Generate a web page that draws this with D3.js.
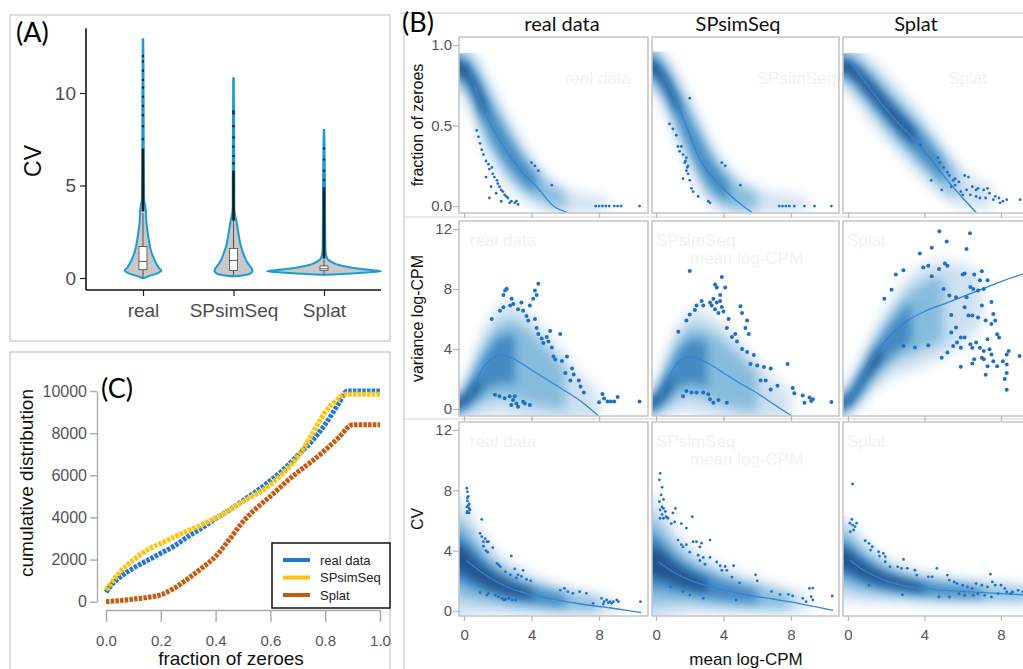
<!DOCTYPE html>
<html>
<head>
<meta charset="utf-8">
<script src="https://cdn.jsdelivr.net/npm/d3@7"></script>
<style>
body { margin: 0; background: #fff; }
svg { display: block; }
</style>
</head>
<body>
<svg id="fig" width="1023" height="669"></svg>
<script>
// ---------- (A) violin data: [CV, relative density]
const groupsA = ["real", "SPsimSeq", "Splat"];
const cvTicks = [0, 5, 10];
const violinReal = [[0,0.02],[0.1,0.1],[0.25,0.25],[0.4,0.32],[0.55,0.28],[0.8,0.23],[1.2,0.17],[1.6,0.13],[2.0,0.105],[2.5,0.08],[3.0,0.06],[3.5,0.053],[3.8,0.044],[4.2,0.021],[5,0.016],[7,0.012],[10,0.01],[12.9,0.005]];
const violinSP = [[0.1,0.035],[0.15,0.175],[0.25,0.3],[0.4,0.333],[0.6,0.3],[0.9,0.23],[1.3,0.175],[1.8,0.123],[2.4,0.088],[3.0,0.056],[3.3,0.035],[3.6,0.018],[5,0.014],[8,0.01],[10.8,0.005]];
const violinSplat = [[0.18,0.02],[0.2,0.25],[0.23,0.42],[0.3,0.75],[0.36,1.0],[0.42,0.85],[0.47,0.7],[0.6,0.42],[0.7,0.26],[0.8,0.17],[1.0,0.07],[1.2,0.04],[1.5,0.026],[2.5,0.021],[4,0.018],[6,0.014],[8,0.005]];
const boxQ1 = [0.45, 0.4, 0.4];
const boxMed = [0.9, 0.95, 0.5];
const boxQ3 = [1.7, 1.6, 0.65];
const whiskLo = [0.05, 0.15, 0.2];
const whiskHi = [3.5, 3.3, 1.0];
const outRunLo = [3.6, 3.1, 1.05];
const outRunHi = [7.0, 5.8, 4.9];
const outSparse = [[7.5,8.2,8.8,9.3,9.8,10.3,10.7,11.2,11.7,12.0],[6.2,6.6,7.1,7.6,8.2,8.9,9.0],[5.3,5.8,6.4,7.0]];

// ---------- (C) cumulative distribution: [fraction of zeroes, count]
const cumTicksY = [0, 2000, 4000, 6000, 8000, 10000];
const cumTicksX = [0, 0.2, 0.4, 0.6, 0.8, 1.0];
const cumNames = ["real data", "SPsimSeq", "Splat"];
const cumReal = [[0,450],[0.02,800],[0.05,1150],[0.1,1600],[0.15,1950],[0.2,2300],[0.25,2650],[0.3,3100],[0.35,3500],[0.4,3950],[0.45,4350],[0.5,4800],[0.55,5250],[0.6,5750],[0.65,6300],[0.7,6950],[0.75,7600],[0.8,8420],[0.85,9420],[0.88,10000],[1.0,10000]];
const cumSP = [[0,550],[0.02,900],[0.05,1400],[0.1,1980],[0.15,2450],[0.2,2770],[0.25,3080],[0.3,3380],[0.35,3650],[0.4,3980],[0.45,4350],[0.5,4750],[0.55,5120],[0.6,5550],[0.65,6150],[0.7,6880],[0.75,7900],[0.8,9000],[0.85,9650],[0.87,9850],[1.0,9850]];
const cumSplat = [[0,0],[0.05,50],[0.1,120],[0.15,200],[0.2,330],[0.25,650],[0.3,1100],[0.35,1600],[0.4,2150],[0.45,2950],[0.5,3800],[0.55,4450],[0.6,5000],[0.65,5600],[0.7,6150],[0.75,6650],[0.8,7200],[0.85,7800],[0.9,8400],[1.0,8400]];

// ---------- (B) density ridges [mean, value, spread, weight], trend lines, outlying genes
const colNamesB = ["real data", "SPsimSeq", "Splat"];
const rowNamesB = ["fraction of zeroes", "variance log-CPM", "CV"];
const xTicksB = [0, 4, 8];

const cloudZeroReal = [[-0.3,0.87,0.08,1],[0.3,0.82,0.1,1],[0.8,0.70,0.12,0.85],[1.3,0.58,0.13,0.75],[1.8,0.48,0.13,0.65],[2.4,0.37,0.12,0.6],[3.0,0.28,0.11,0.55],[3.6,0.20,0.09,0.5],[4.3,0.13,0.07,0.45],[5.0,0.07,0.055,0.35],[6.0,0.03,0.04,0.25],[7.0,0.015,0.03,0.15],[8.5,0.01,0.025,0.1]];
const cloudZeroSP = [[-0.24,0.88,0.08,1],[0.3,0.82,0.09,1],[0.8,0.72,0.1,0.85],[1.3,0.61,0.11,0.75],[1.8,0.49,0.12,0.65],[2.4,0.36,0.12,0.6],[3.0,0.24,0.12,0.55],[3.6,0.15,0.1,0.5],[4.3,0.09,0.08,0.45],[5,0.05,0.06,0.4],[6,0.03,0.04,0.3],[7.5,0.015,0.03,0.2],[9,0.01,0.025,0.12]];
const cloudZeroSplat = [[-0.26,0.88,0.07,1],[0.3,0.84,0.09,1],[1.0,0.75,0.1,0.95],[1.8,0.64,0.11,0.9],[2.6,0.53,0.11,0.85],[3.5,0.42,0.11,0.75],[4.3,0.31,0.1,0.65],[5.0,0.21,0.09,0.5],[5.7,0.13,0.07,0.35],[6.5,0.08,0.05,0.2],[7.5,0.05,0.04,0.1]];
const cloudVarReal = [[-0.3,0.2,0.5,1],[0.3,0.8,0.8,0.95],[0.8,1.8,1.3,0.75],[1.5,2.8,1.8,0.6],[2.2,3.4,2.1,0.5],[3,3.3,2.2,0.45],[4,2.7,2.0,0.4],[5,2.0,1.6,0.33],[6,1.3,1.2,0.28],[7,0.7,0.8,0.2],[8,0.3,0.5,0.12]];
const cloudVarSP = [[-0.24,0.2,0.5,1],[0.3,0.8,0.8,0.95],[0.8,1.9,1.3,0.75],[1.5,2.9,1.7,0.6],[2.0,3.3,1.9,0.5],[3,3.0,2.0,0.45],[4,2.4,1.8,0.4],[5,1.8,1.5,0.33],[6,1.1,1.1,0.28],[7,0.6,0.8,0.2],[8,0.3,0.5,0.12]];
const cloudVarSplat = [[-0.26,0.2,0.5,1],[0.3,0.9,0.7,1],[1,2.5,0.9,0.95],[1.7,3.8,1.2,0.85],[2.5,5.0,1.5,0.65],[3.3,5.8,1.8,0.5],[4,6.3,1.9,0.4],[5,6.7,1.8,0.3],[6,7.0,1.5,0.2],[7,7.3,1.0,0.12]];
const cloudCvReal = [[-0.3,3.6,2.2,1],[0.3,3.1,2.0,1],[1,2.4,1.5,0.95],[2,1.75,1.1,0.9],[3,1.35,0.9,0.8],[4,1.05,0.7,0.72],[5,0.85,0.6,0.62],[6,0.65,0.5,0.5],[7,0.5,0.4,0.4],[8,0.4,0.35,0.3],[9,0.3,0.3,0.18]];
const cloudCvSP = [[-0.24,3.4,2.4,1],[0.3,3.1,2.2,1],[1,2.5,1.6,0.95],[2,2.0,1.2,0.85],[3,1.65,1.0,0.75],[4,1.35,0.85,0.65],[5,1.15,0.7,0.55],[6,0.95,0.6,0.5],[7,0.8,0.5,0.42],[8,0.65,0.4,0.32],[9,0.5,0.35,0.2]];
const cloudCvSplat = [[-0.26,3.6,1.6,1],[0.3,3.1,1.4,1],[1,2.5,1.1,0.95],[2,2.0,0.8,0.9],[3,1.7,0.65,0.8],[4,1.5,0.55,0.7],[5,1.35,0.5,0.6],[6,1.3,0.45,0.5],[7,1.2,0.4,0.45],[8,1.15,0.35,0.4],[9.5,1.05,0.3,0.35]];
const capZero = [0.95, 0.96, 0.95];
const capVar = [13, 13, 13];
const capCv = [8.2, 9.2, 6.3];

const trendZeroReal = [[0.16,0.89],[0.5,0.79],[0.84,0.68],[1.2,0.59],[1.6,0.5],[2.2,0.39],[3,0.27],[3.6,0.19],[4.3,0.12],[5.3,0.0],[6.1,-0.04]];
const trendZeroSP = [[0.12,0.88],[0.6,0.78],[1.1,0.68],[1.9,0.47],[2.7,0.27],[3.7,0.14],[4.7,0.04],[5.7,-0.04]];
const trendZeroSplat = [[0.09,0.9],[0.9,0.77],[1.74,0.64],[2.6,0.52],[3.5,0.41],[4.4,0.28],[5.2,0.16],[6.0,0.05],[6.7,-0.04]];
const trendVarReal = [[0.15,0.3],[0.7,1.8],[1.3,3.0],[2.2,3.6],[3,3.3],[4,2.6],[5,1.9],[6,1.2],[7,0.45],[8,-0.5]];
const trendVarSP = [[0.15,0.3],[0.7,1.9],[1.3,3.1],[2.0,3.5],[3,3.1],[4,2.4],[5,1.7],[6,1.05],[7,0.3],[8.1,-0.5]];
const trendVarSplat = [[0.1,0.3],[0.7,1.8],[1.3,3.3],[2,4.6],[3,5.8],[4,6.5],[5,7.0],[6,7.5],[7,8.0],[8,8.5],[9.6,9.2]];
const trendCvReal = [[0.15,3.35],[1,2.6],[2,1.9],[3,1.4],[4,1.08],[5,0.85],[6,0.63],[7,0.45],[8,0.3],[9,0.15],[10.5,-0.1]];
const trendCvSP = [[0.15,3.25],[1,2.6],[2,2.05],[3,1.68],[4,1.4],[5,1.15],[6,0.95],[7,0.78],[8,0.6],[9,0.38],[10.5,0.05]];
const trendCvSplat = [[0.1,3.4],[0.7,2.8],[1.3,2.4],[2,2.0],[3,1.65],[4,1.48],[5,1.38],[6,1.3],[7,1.23],[8,1.15],[9.6,1.05]];

const dotsZeroReal = [[0.75,0.47],[0.85,0.43],[0.95,0.39],[1.05,0.35],[1.15,0.32],[1.3,0.28],[1.45,0.26],[1.5,0.23],[1.65,0.24],[1.7,0.2],[1.8,0.18],[1.95,0.16],[2.0,0.14],[2.1,0.12],[2.2,0.10],[2.3,0.09],[2.4,0.07],[2.5,0.06],[2.6,0.05],[2.8,0.03],[3.0,0.02],[3.2,0.01],[1.5,0.05],[2.2,0.03],[1.3,0.18],[1.6,0.12],[1.9,0.08],[2.7,0.02],[3.1,0.03],[4.0,0.27],[4.2,0.25],[4.4,0.22],[5.2,0.13],[7.8,0],[8.0,0],[8.2,0],[8.4,0],[8.6,0],[8.9,0],[9.1,0],[9.3,0],[10.4,0]];
const dotsZeroSP = [[0.8,0.51],[1.0,0.48],[1.2,0.44],[1.3,0.37],[1.5,0.37],[1.4,0.34],[1.6,0.32],[1.8,0.30],[1.7,0.27],[1.9,0.25],[1.8,0.22],[1.9,0.20],[1.6,0.17],[2.0,0.16],[2.1,0.11],[2.2,0.09],[2.5,0.06],[3.1,0.03],[3.2,0.02],[1.75,0.28],[1.85,0.24],[2.0,0.67],[3.9,0.27],[4.1,0.25],[5.0,0.13],[7.3,0],[7.5,0],[7.7,0],[7.9,0],[8.2,0],[8.8,0],[9.4,0],[10.4,0]];
const dotsZeroSplat = [[2.9,0.51],[3.8,0.38],[4.7,0.30],[5.0,0.24],[5.2,0.21],[5.3,0.19],[5.5,0.16],[5.6,0.17],[5.8,0.15],[6.1,0.19],[6.3,0.18],[6.5,0.12],[6.7,0.10],[6.8,0.11],[7.1,0.10],[7.3,0.11],[7.4,0.08],[7.7,0.06],[7.9,0.05],[8.1,0.03],[8.3,0.04],[4.35,0.16],[4.9,0.10],[5.4,0.12],[5.9,0.09],[6.0,0.07],[6.4,0.07],[6.7,0.06],[6.9,0.05],[7.2,0.05],[7.6,0.04],[7.95,0.02],[9.0,0.04],[4.8,0.27],[5.6,0.13],[6.2,0.1]];
const dotsVarReal = [[1.64,6.0],[2.13,6.56],[2.33,6.79],[2.43,7.91],[2.53,8.02],[2.33,7.6],[2.73,6.9],[2.82,7.35],[2.92,7.0],[3.2,6.66],[3.4,7.1],[3.5,6.55],[3.7,6.2],[3.8,5.9],[3.9,6.9],[4.1,7.35],[4.2,7.9],[4.3,7.6],[4.4,8.35],[4.2,6.0],[4.3,5.4],[4.4,5.0],[4.6,4.7],[4.7,4.4],[4.9,4.8],[5.0,4.5],[5.2,4.1],[5.1,5.2],[5.7,5.0],[5.3,3.5],[5.4,3.3],[5.8,3.2],[6.1,3.5],[6.0,2.4],[6.4,2.7],[6.5,2.3],[6.3,1.9],[6.8,1.9],[6.9,1.5],[7.1,1.1],[8.2,1.0],[8.3,0.7],[8.5,0.5],[8.7,0.5],[8.9,0.5],[9.1,0.8],[10.4,0.5],[8.0,0.45],[1.83,0.95],[2.1,0.85],[2.4,0.72],[2.7,0.85],[2.9,0.6],[2.8,0.26],[3.1,0.37],[3.5,0.48],[3.6,0.37],[3.9,0.26],[3.2,0.15],[3.0,0.85]];
const dotsVarSP = [[2.0,9.2],[1.32,5.15],[1.8,5.9],[2.0,6.3],[2.3,6.6],[2.4,6.9],[2.7,7.2],[2.8,6.9],[3.2,7.1],[3.3,6.9],[3.4,7.35],[3.5,8.3],[3.6,8.1],[3.8,7.6],[3.9,8.8],[4.1,8.1],[3.5,6.65],[3.7,6.4],[3.9,6.8],[4.0,6.5],[3.6,7.1],[3.8,7.2],[4.3,6.0],[4.2,5.4],[4.5,4.8],[4.7,5.0],[4.8,4.5],[5.0,6.85],[5.1,6.4],[5.4,5.9],[5.3,5.4],[5.5,5.0],[5.4,3.8],[5.1,4.0],[5.8,3.6],[5.6,3.0],[6.0,2.9],[6.4,2.8],[6.8,2.7],[6.2,1.9],[6.5,1.9],[6.8,1.3],[7.2,1.55],[7.8,3.0],[8.1,1.4],[8.2,1.05],[8.7,0.9],[9.1,0.76],[9.2,0.53],[8.8,0.42],[9.3,0.65],[10.4,0.47],[1.6,0.85],[1.8,1.2],[2.1,1.1],[2.4,1.1],[2.8,1.1],[3.1,0.98],[3.2,0.64],[3.4,0.42],[3.7,0.6],[4.2,0.42]];
const dotsVarSplat = [[1.9,7.35],[2.28,7.96],[2.5,8.97],[2.9,9.26],[3.76,10.38],[3.94,9.44],[4.2,9.56],[4.38,10.76],[4.38,8.85],[4.78,11.85],[5.16,11.17],[5.07,9.71],[5.2,9.56],[4.76,9.33],[6.2,10.68],[6.38,11.73],[6.0,8.97],[6.1,9.03],[6.6,8.97],[7.0,9.19],[6.9,8.58],[7.3,8.58],[7.1,8.0],[6.55,8.0],[6.4,8.13],[6.8,7.9],[6.2,7.46],[5.65,7.46],[5.3,7.57],[5.0,8.0],[6.1,6.79],[6.3,6.23],[6.5,6.23],[6.8,6.11],[7.0,6.9],[7.5,7.13],[7.6,6.33],[7.7,5.9],[7.2,5.9],[7.5,5.66],[5.4,6.27],[5.65,5.44],[5.4,5.1],[5.9,4.76],[6.1,4.76],[5.7,4.43],[5.9,4.09],[5.2,3.76],[4.9,3.42],[5.5,4.2],[6.4,4.31],[6.5,4.09],[6.7,4.43],[6.9,4.09],[7.1,3.87],[7.3,4.65],[7.4,3.98],[7.5,3.64],[7.8,4.99],[7.9,4.76],[7.6,3.19],[7.3,2.85],[7.0,3.42],[6.6,3.31],[6.5,3.04],[7.1,3.31],[7.8,2.85],[8.1,3.19],[8.3,3.64],[8.4,3.87],[8.3,2.97],[8.3,2.4],[8.2,2.0],[8.3,1.28],[7.2,2.29],[5.9,2.81],[8.97,3.53],[2.9,4.2],[3.5,4.1],[4.2,4.25]];
const dotsCvReal = [[0.16,8.14],[0.2,7.9],[0.25,7.6],[0.2,7.3],[0.3,7.1],[0.16,6.9],[0.3,6.8],[0.2,6.6],[0.35,6.7],[0.16,6.5],[0.3,6.5],[0.25,7.0],[0.2,7.5],[1.05,6.08],[0.95,5.15],[1.05,4.93],[1.15,4.6],[1.25,4.8],[1.35,4.6],[1.45,4.6],[1.15,4.3],[1.3,4.0],[1.4,3.9],[1.7,4.2],[2.8,3.65],[1.95,3.16],[2.15,2.94],[2.05,3.05],[2.45,2.6],[2.75,2.4],[3.0,2.8],[3.2,2.4],[3.1,2.2],[3.5,2.7],[3.4,2.3],[3.7,2.1],[3.95,2.0],[0.95,1.22],[1.35,1.06],[1.45,1.17],[1.85,1.06],[2.05,0.95],[2.25,0.84],[2.45,0.77],[2.65,0.84],[2.85,0.73],[3.05,0.73],[2.35,0.73],[5.7,1.39],[5.95,1.5],[6.15,1.28],[6.45,1.17],[6.85,1.28],[7.25,1.17],[7.65,0.51],[8.15,0.84],[8.3,0.62],[8.45,0.73],[8.55,0.55],[8.65,0.62],[8.85,0.62],[9.05,0.73],[9.15,0.62],[8.25,0.46],[8.75,0.51],[10.45,0.62]];
const dotsCvSP = [[0.24,9.13],[0.2,8.7],[0.36,8.2],[0.3,7.7],[0.44,7.4],[0.2,7.25],[0.36,6.9],[0.24,6.7],[0.44,6.8],[0.55,6.6],[0.36,6.4],[0.6,6.25],[0.24,6.15],[0.44,6.15],[0.7,6.15],[1.0,6.5],[1.15,6.8],[0.9,5.8],[1.1,5.9],[1.5,5.8],[1.8,5.5],[2.15,6.25],[1.3,4.7],[1.5,4.4],[1.6,4.25],[1.8,4.4],[2.0,3.9],[2.2,4.6],[2.4,4.6],[2.6,4.25],[2.7,4.5],[3.2,4.7],[2.5,3.7],[2.6,3.35],[2.8,3.55],[2.9,3.1],[3.2,3.55],[3.6,3.25],[3.8,3.0],[3.9,2.7],[4.1,2.95],[4.2,2.7],[4.6,3.0],[4.5,2.25],[4.95,1.86],[5.9,2.4],[6.0,2.0],[0.85,1.6],[1.6,1.3],[2.0,1.06],[2.8,0.84],[4.75,0.73],[6.85,1.3],[7.35,1.1],[7.85,1.1],[8.1,1.0],[8.7,0.84],[8.9,0.62],[9.1,1.5],[9.3,1.52],[9.2,0.95],[9.3,0.73],[10.45,1.0]];
const dotsCvSplat = [[0.24,8.42],[0.2,6.07],[0.1,5.82],[0.24,5.7],[0.37,5.6],[0.45,5.82],[0.3,5.37],[0.12,5.26],[0.9,4.66],[1.1,4.49],[1.18,4.04],[1.27,4.26],[1.6,3.93],[1.65,3.64],[1.85,3.82],[1.95,3.6],[1.95,3.27],[2.2,2.93],[2.6,2.93],[2.8,2.83],[3.1,2.83],[2.9,3.42],[3.5,2.71],[3.6,2.38],[4.2,2.27],[4.65,2.83],[4.4,2.27],[5.2,2.38],[5.3,2.05],[5.55,1.93],[5.7,1.82],[6.0,1.71],[6.25,1.6],[6.5,1.49],[6.7,1.82],[7.0,1.71],[7.3,1.6],[7.45,2.44],[7.55,1.93],[7.7,1.71],[8.0,1.71],[8.2,1.49],[8.3,1.26],[8.6,1.26],[8.5,1.15],[5.8,1.15],[6.1,1.04],[6.55,1.04],[6.8,1.15],[7.15,1.04],[7.85,1.15],[7.5,0.93],[4.75,0.93],[5.3,0.93],[2.85,1.08],[1.1,1.7],[9.15,1.26],[8.9,1.37]];

// ---------- drawing
const sans = '"Liberation Sans", Arial, sans-serif';
const calib = 'Lato, "Open Sans", sans-serif';
const svg = d3.select("#fig");
const defs = svg.append("defs");
svg.append("rect").attr("width", 1023).attr("height", 669).attr("fill", "#fff");

[4, 5, 6, 7].forEach(b => {
  defs.append("filter").attr("id", "blur" + b)
    .attr("filterUnits", "userSpaceOnUse").attr("x", 0).attr("y", 0).attr("width", 1023).attr("height", 669)
    .append("feGaussianBlur").attr("stdDeviation", b);
});

// frames
const frame = "#c8c8c8";
svg.append("rect").attr("x", 10).attr("y", 15).attr("width", 380).attr("height", 326)
  .attr("fill", "none").attr("stroke", frame).attr("stroke-width", 1.2);
svg.append("rect").attr("x", 10).attr("y", 352).attr("width", 380).attr("height", 340)
  .attr("fill", "none").attr("stroke", frame).attr("stroke-width", 1.2);
svg.append("line").attr("x1", 400).attr("x2", 1023).attr("y1", 13).attr("y2", 13).attr("stroke", frame).attr("stroke-width", 1.2);
svg.append("line").attr("x1", 404).attr("x2", 404).attr("y1", 13).attr("y2", 669).attr("stroke", frame).attr("stroke-width", 1.2);
[217, 419].forEach(y => svg.append("line").attr("x1", 404).attr("x2", 1023).attr("y1", y).attr("y2", y)
  .attr("stroke", "#d4d4d4").attr("stroke-width", 1.2));

// ===== Panel A
const xA = d3.scalePoint().domain(groupsA).range([143, 324]);
const yA = d3.scaleLinear().domain([0, 10]).range([278, 93]);
const wA = d3.scaleLinear().domain([0, 1]).range([0, 57]);
const violins = [violinReal, violinSP, violinSplat];

const gA = svg.append("g");
violins.forEach((v, i) => {
  const cx = xA(groupsA[i]);
  const area = d3.area().curve(d3.curveCatmullRom)
    .y(d => yA(d[0])).x0(d => cx - wA(d[1])).x1(d => cx + wA(d[1]));
  gA.append("path").attr("d", area(v)).attr("fill", "#c8c8c8")
    .attr("stroke", "#1b9bd6").attr("stroke-width", 2);
  // box + whiskers
  gA.append("line").attr("x1", cx).attr("x2", cx).attr("y1", yA(whiskLo[i])).attr("y2", yA(whiskHi[i]))
    .attr("stroke", "#333").attr("stroke-width", 0.8);
  gA.append("rect").attr("x", cx - 4).attr("width", 8)
    .attr("y", yA(boxQ3[i])).attr("height", yA(boxQ1[i]) - yA(boxQ3[i]))
    .attr("fill", "#fff").attr("stroke", "#333").attr("stroke-width", 0.7);
  gA.append("line").attr("x1", cx - 4).attr("x2", cx + 4).attr("y1", yA(boxMed[i])).attr("y2", yA(boxMed[i]))
    .attr("stroke", "#333").attr("stroke-width", 0.8);
  // outliers
  gA.append("line").attr("x1", cx).attr("x2", cx).attr("y1", yA(outRunLo[i])).attr("y2", yA(outRunHi[i]))
    .attr("stroke", "#1c1c1c").attr("stroke-width", 2.6);
  gA.selectAll(null).data(outSparse[i]).enter().append("circle")
    .attr("cx", cx).attr("cy", d => yA(d)).attr("r", 1.2).attr("fill", "#1c1c1c");
});

const axAy = gA.append("g").attr("transform", "translate(86,0)")
  .call(d3.axisLeft(yA).tickValues(cvTicks).tickSize(6).tickPadding(4));
const axAx = gA.append("g").attr("transform", "translate(0,290)")
  .call(d3.axisBottom(xA).tickSize(6).tickPadding(8));
[axAy, axAx].forEach(a => {
  a.select(".domain").remove();
  a.selectAll("line").attr("stroke", "#222").attr("stroke-width", 1.2);
  a.selectAll("text").attr("font-family", sans).attr("font-size", 19).attr("fill", "#4d4d4d");
});
gA.append("line").attr("x1", 86).attr("x2", 86).attr("y1", yA(13.5)).attr("y2", 290).attr("stroke", "#111").attr("stroke-width", 1.6);
gA.append("line").attr("x1", 86).attr("x2", 381).attr("y1", 290).attr("y2", 290).attr("stroke", "#111").attr("stroke-width", 1.6);
gA.append("text").attr("transform", "translate(41,161) rotate(-90)").attr("text-anchor", "middle")
  .attr("font-family", sans).attr("font-size", 23).attr("fill", "#111").text("CV");
svg.append("text").attr("x", 16).attr("y", 42).attr("font-family", calib).attr("font-size", 27).text("(A)");

// ===== Panel C
const xC = d3.scaleLinear().domain([0, 1]).range([106, 380]);
const yC = d3.scaleLinear().domain([0, 10000]).range([601.7, 391]);
const gC = svg.append("g");
const axCy = gC.append("g").attr("transform", "translate(97,0)")
  .call(d3.axisLeft(yC).tickValues(cumTicksY).tickFormat(d3.format("d")).tickSize(7).tickSizeOuter(0).tickPadding(3));
const axCx = gC.append("g").attr("transform", "translate(0,610)")
  .call(d3.axisBottom(xC).tickValues(cumTicksX).tickFormat(d3.format(".1f")).tickSize(12).tickSizeOuter(0).tickPadding(13));
[axCy, axCx].forEach(a => {
  a.select(".domain").attr("stroke", "#aaa").attr("stroke-width", 1.4);
  a.selectAll("line").attr("stroke", "#aaa").attr("stroke-width", 1.4);
  a.selectAll("text").attr("font-family", sans).attr("fill", "#555");
});
axCy.selectAll("text").attr("font-size", 16);
axCx.selectAll("text").attr("font-size", 15);

const cumColors = ["#2277d2", "#ffc20e", "#c55a11"];
const cumSeries = [cumReal, cumSP, cumSplat];
const lineC = d3.line().curve(d3.curveMonotoneX).x(d => xC(d[0])).y(d => yC(d[1]));
cumSeries.forEach((s, i) => {
  gC.append("path").attr("d", lineC(s)).attr("fill", "none").attr("stroke", cumColors[i])
    .attr("stroke-width", 5).attr("stroke-dasharray", "3.5 1.2");
});
gC.append("text").attr("transform", "translate(33,483) rotate(-90)").attr("text-anchor", "middle")
  .attr("font-family", sans).attr("font-size", 19).attr("fill", "#111").text("cumulative distribution");
gC.append("text").attr("x", 231).attr("y", 665).attr("text-anchor", "middle")
  .attr("font-family", sans).attr("font-size", 19).attr("fill", "#111").text("fraction of zeroes");
svg.append("text").attr("x", 101).attr("y", 398).attr("font-family", calib).attr("font-size", 27).text("(C)");

const leg = gC.append("g");
leg.append("rect").attr("x", 272).attr("y", 543).attr("width", 118).attr("height", 65)
  .attr("fill", "#fff").attr("stroke", "#111").attr("stroke-width", 1.5);
cumNames.forEach((n, i) => {
  const y = 560 + i * 17.5;
  leg.append("line").attr("x1", 283).attr("x2", 310).attr("y1", y).attr("y2", y)
    .attr("stroke", cumColors[i]).attr("stroke-width", 4);
  leg.append("text").attr("x", 320).attr("y", y + 4.5).attr("font-family", sans).attr("font-size", 13)
    .attr("fill", "#222").text(n);
});

// ===== Panel B
const xB = [
  d3.scaleLinear().domain([-0.3, 10.9]).range([459, 648]),
  d3.scaleLinear().domain([-0.24, 10.85]).range([652, 839]),
  d3.scaleLinear().domain([-0.26, 9.57]).range([843, 1031])
];
const yB = [
  d3.scaleLinear().domain([-0.043, 1.05]).range([213, 37]),
  d3.scaleLinear().domain([-0.47, 12.54]).range([416, 221]),
  d3.scaleLinear().domain([-0.33, 12.53]).range([616, 422])
];
const yTicksB = [[0, 0.5, 1.0], [0, 4, 8, 12], [0, 4, 8, 12]];
const dotR = [1.4, 2.0, 1.4];
const panelsB = [
  [[cloudZeroReal, trendZeroReal, dotsZeroReal], [cloudZeroSP, trendZeroSP, dotsZeroSP], [cloudZeroSplat, trendZeroSplat, dotsZeroSplat]],
  [[cloudVarReal, trendVarReal, dotsVarReal], [cloudVarSP, trendVarSP, dotsVarSP], [cloudVarSplat, trendVarSplat, dotsVarSplat]],
  [[cloudCvReal, trendCvReal, dotsCvReal], [cloudCvSP, trendCvSP, dotsCvSP], [cloudCvSplat, trendCvSplat, dotsCvSplat]]
];
const capsB = [capZero, capVar, capCv];
const layers = [
  { k: 1.8, minW: 0, color: "#c6dbef", op: 0.85, blur: 7 },
  { k: 1.2, minW: 0.25, color: "#6baed6", op: 0.72, blur: 6 },
  { k: 0.75, minW: 0.45, color: "#2171b5", op: 0.66, blur: 5 },
  { k: 0.42, minW: 0.7, color: "#08306b", op: 0.6, blur: 4 }
];

panelsB.forEach((row, ri) => row.forEach(([cloud, trend, dots], ci) => {
  const xs = xB[ci], ys = yB[ri];
  const [px0, px1] = xs.range();
  const [pyB, pyT] = ys.range();
  const g = svg.append("g");
  const cid = "clip" + ri + ci, kid = "cap" + ri + ci;
  defs.append("clipPath").attr("id", cid).append("rect")
    .attr("x", px0).attr("y", pyT).attr("width", px1 - px0).attr("height", pyB - pyT);
  const capY = Math.max(pyT, ys(capsB[ri][ci]));
  defs.append("clipPath").attr("id", kid).append("rect")
    .attr("x", px0).attr("y", capY).attr("width", px1 - px0).attr("height", pyB - capY);

  // extend the ridge past the left edge so the blur does not fade at the frame
  const ridge = [[cloud[0][0] - 1, cloud[0][1], cloud[0][2], cloud[0][3]]].concat(cloud);
  const cg = g.append("g").attr("clip-path", `url(#${kid})`);
  layers.forEach(L => {
    const pts = ridge.filter(d => d[3] >= L.minW);
    if (pts.length < 2) return;
    const area = d3.area().curve(d3.curveBasis)
      .x(d => xs(d[0])).y0(d => ys(d[1] - L.k * d[2])).y1(d => ys(d[1] + L.k * d[2]));
    cg.append("path").attr("d", area(pts)).attr("fill", L.color).attr("opacity", L.op)
      .attr("filter", `url(#blur${L.blur})`);
  });

  const pg = g.append("g").attr("clip-path", `url(#${cid})`);
  pg.append("path").attr("d", d3.line().curve(d3.curveCatmullRom).x(d => xs(d[0])).y(d => ys(d[1]))(trend))
    .attr("fill", "none").attr("stroke", "#3384d4").attr("stroke-width", 1.3);
  pg.selectAll(null).data(dots).enter().append("circle")
    .attr("cx", d => xs(d[0])).attr("cy", d => ys(d[1])).attr("r", dotR[ri]).attr("fill", "#1f6fc6");

  g.append("rect").attr("x", px0).attr("y", pyT).attr("width", px1 - px0).attr("height", pyB - pyT)
    .attr("fill", "none").attr("stroke", "#c4c4c4").attr("stroke-width", 1.5);

  const ax = g.append("g").attr("transform", `translate(0,${pyB})`)
    .call(d3.axisBottom(xs).tickValues(xTicksB).tickSize(5).tickPadding(8).tickFormat(ri === 2 ? d3.format("d") : () => ""));
  ax.select(".domain").remove();
  ax.selectAll("line").attr("stroke", "#bbb").attr("stroke-width", 1.3);
  ax.selectAll("text").attr("font-family", sans).attr("font-size", 15).attr("fill", "#555");
  if (ci === 0) {
    const ay = g.append("g").attr("transform", `translate(${px0},0)`)
      .call(d3.axisLeft(ys).tickValues(yTicksB[ri]).tickSize(6).tickPadding(1)
        .tickFormat(ri === 0 ? d3.format(".1f") : d3.format("d")));
    ay.select(".domain").remove();
    ay.selectAll("line").attr("stroke", "#bbb").attr("stroke-width", 1.3);
    ay.selectAll("text").attr("font-family", sans).attr("font-size", 15).attr("fill", "#555");
    g.append("text").attr("transform", `translate(423,${(pyB + pyT) / 2}) rotate(-90)`)
      .attr("text-anchor", "middle").attr("font-family", sans).attr("font-size", 16).attr("fill", "#111")
      .text(rowNamesB[ri]);
  }
  // faint ghost labels left over in the figure
  const ghost = g.append("g").attr("fill", "#f2f2f2").attr("font-family", sans).attr("font-size", 17);
  if (ri === 0) {
    ghost.append("text").attr("x", px0 + (px1 - px0) * 0.56).attr("y", pyT + 47).text(colNamesB[ci]);
  } else {
    ghost.append("text").attr("x", px0 + (ci === 0 ? 11 : 4)).attr("y", pyT + 25).text(colNamesB[ci]);
    if (ci === 1) ghost.append("text").attr("x", px0 + 38).attr("y", pyT + 43).text("mean log-CPM");
  }
}));

colNamesB.forEach((n, i) => {
  svg.append("text").attr("x", [562, 738, 916][i]).attr("y", 31).attr("text-anchor", "middle")
    .attr("font-family", calib).attr("font-size", 20).attr("fill", "#111").text(n);
});
svg.append("text").attr("x", 746).attr("y", 665).attr("text-anchor", "middle")
  .attr("font-family", sans).attr("font-size", 17).attr("fill", "#111").text("mean log-CPM");
svg.append("text").attr("x", 402).attr("y", 32).attr("font-family", calib).attr("font-size", 27).text("(B)");
</script>
</body>
</html>
